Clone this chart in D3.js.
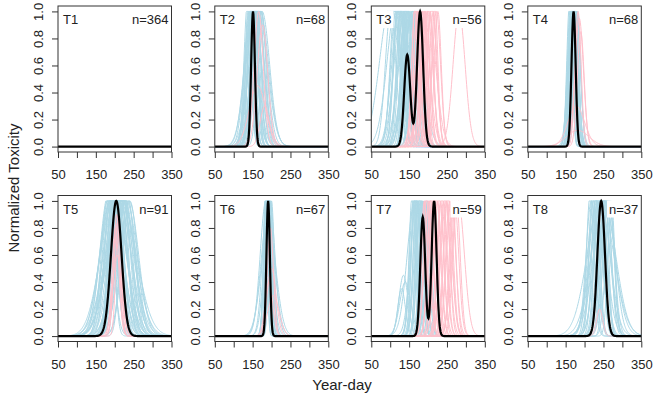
<!DOCTYPE html>
<html><head><meta charset="utf-8">
<script src="https://cdn.jsdelivr.net/npm/d3@7"></script>
<style>body{margin:0;background:#fff}svg{display:block;font-family:"Liberation Sans",Arial,sans-serif}</style>
</head><body><svg id="c" width="654" height="401"></svg>
<script>
// ---- data ----
const panelNames = ["T1","T2","T3","T4","T5","T6","T7","T8"];
const panelN = [364,68,56,68,91,67,59,37];
const xTicks = [50,100,150,200,250,300,350];
const xTickLabels = [50,150,250,350];
const yTicks = [0,0.2,0.4,0.6,0.8,1.0];
// each curve: [peak day, spread (days), relative height]
const blueCurves = [
  [],
  [[136,9,1.05],[139,8,1],[141,11,1.1],[143,7,1],[145,12,1.05],[147,9,1.1],[148,15,1],[150,8,1.05],[151,13,1.1],[153,10,1],[154,17,1.05],[156,9,1.1],[157,12,1],[159,14,1.05],[160,20,1],[162,10,1.05],[164,16,1.1],[165,24,1],[167,13,1],[168,19,1.05],[170,22,1],[172,15,1],[174,11,1],[144,16,1],[149,6,1.05],[152,22,1],[158,7,1],[146,19,0.95],[175,20,1]],
  [[101,14,1],[100,28,1.05],[118,25,1.1],[112,12,1.05],[115,14,1],[118,10,1.05],[121,12,1],[124,15,1.1],[127,10,1],[130,13,1.05],[133,11,1.1],[136,16,1],[138,9,1.05],[141,12,1.1],[144,14,1],[146,10,1.05],[149,18,1],[152,11,1.1],[155,13,1],[158,20,1],[160,9,1.05],[163,15,1],[166,12,1.05],[169,10,1],[173,14,1],[130,20,1],[145,22,1],[160,24,1],[122,18,1],[140,7,1.05],[150,8,1],[135,6,1]],
  [[160,7,1.05],[162,8,1],[163,6,1.1],[165,9,1],[166,7,1.05],[167,8,1.1],[168,10,1],[169,6,1.05],[170,9,1.1],[171,7,1],[172,8,1.05],[173,10,1],[174,7,1.1],[175,9,1],[176,8,1.05],[178,7,1],[180,9,1],[182,8,1],[167,11,1],[177,11,1],[164,5,1],[172,5,1.05]],
  [[180,16,1],[183,22,1.05],[185,18,1],[187,25,1.05],[189,15,1.1],[191,30,1],[193,20,1.05],[195,12,1.1],[197,35,1],[199,22,1.05],[201,16,1.1],[203,28,1],[205,18,1.1],[207,24,1.05],[209,14,1.1],[211,32,1],[213,20,1.05],[215,26,1.1],[217,16,1.05],[218,36,1],[220,22,1.05],[222,18,1.1],[224,28,1],[226,20,1.05],[228,24,1],[230,30,1],[232,22,1.05],[235,18,1],[238,25,1],[196,26,1.05],[210,10,1.05],[200,30,1],[217,40,1],[205,13,1.05],[190,10,1],[225,12,1],[215,34,1],[188,28,1],[240,20,1],[212,22,1.05]],
  [[183,5,1],[185,6,1.05],[186,4,1.1],[187,7,1],[188,5,1.05],[189,8,1],[190,6,1.1],[191,5,1.05],[192,7,1],[193,4,1.05],[194,6,1],[195,8,1.05],[196,5,1],[198,6,1],[200,7,1],[185,15,1],[190,18,0.9],[195,14,1],[188,12,1],[192,20,0.8]],
  [[158,8,1.05],[161,10,1],[163,7,1.1],[165,9,1],[167,12,1.05],[169,8,1.1],[171,10,1],[173,7,1.05],[175,11,1],[177,9,1.05],[179,8,1.1],[181,10,1],[183,7,1.05],[186,9,1],[189,8,1],[193,9,1],[198,8,1],[203,7,1],[135,12,0.45],[140,15,0.4],[130,10,0.35],[165,20,1],[170,16,1]],
  [[215,10,1.05],[218,14,1],[221,9,1.1],[224,12,1],[227,18,1.05],[230,10,1.1],[232,15,1],[235,22,1.05],[237,11,1.1],[240,16,1],[242,25,1],[245,13,1.05],[247,19,1.1],[250,10,1],[252,28,1],[255,15,1.05],[258,12,1.1],[261,20,1],[264,14,1.05],[267,11,1],[271,9,1],[242,35,1],[250,32,1],[233,8,1],[256,8,1]]
];
const pinkCurves = [
  [],
  [[166,12,1],[176,14,0.9],[163,22,0.45],[182,12,0.3]],
  [[165,8,1.05],[168,10,1.1],[171,9,1],[174,12,1.05],[177,8,1.1],[180,11,1],[183,10,1.05],[186,13,1],[189,9,1.1],[192,12,1],[195,10,1.05],[198,14,1],[202,11,1.05],[206,9,1],[210,12,1.05],[214,10,1],[218,8,1.05],[222,11,1],[226,9,1],[185,18,1],[200,20,1],[282,16,1],[175,6,1],[190,7,1]],
  [[183,8,1],[186,11,0.95],[190,9,0.85],[178,22,0.3],[182,30,0.12]],
  [[205,8,0.9],[208,10,0.85],[202,9,0.8],[210,7,0.9],[206,12,0.6]],
  [[197,8,0.8],[200,12,0.5],[205,15,0.3],[193,10,0.4]],
  [[190,8,1],[194,10,1.05],[198,9,1.1],[202,11,1],[206,8,1.05],[210,10,1.1],[214,12,1],[217,9,1.05],[221,11,1.1],[225,10,1],[229,12,1.05],[233,9,1],[237,11,1.05],[241,10,1],[245,12,1.05],[249,9,1],[253,11,1.05],[257,10,1],[261,12,1],[265,9,1],[270,11,1],[275,10,1],[280,16,1],[248,14,1]],
  [[240,8,0.2]]
];
const meanCurves = [
  [],
  [[151,5,1]],
  [[145,8,0.68],[179,8,1]],
  [[171,5.5,1]],
  [[204,14,1]],
  [[191,4.5,1]],
  [[186,6.5,0.88],[216,6.5,1]],
  [[244,10,1]]
];

// ---- drawing ----
const svg = d3.select("#c");
const days = d3.range(50, 351, 1);
function profile(comps){
  return days.map(d => [d, Math.min(1, comps.reduce((s,[c,sd,a]) => s + a*Math.exp(-0.5*((d-c)/sd)**2), 0))]);
}
const boxW = 113.5, boxH = 146;
const colLeft = [58, 214.8, 371.3, 527.8];
const rowTop = [6, 195.5];
const txt = "#222";

panelNames.forEach((name, i) => {
  const r = Math.floor(i/4), c = i%4;
  const g = svg.append("g").attr("transform", `translate(${colLeft[c]},${rowTop[r]})`);
  const x = d3.scaleLinear().domain([50,350]).range([0,boxW]);
  const y = d3.scaleLinear().domain([-0.04,1.04]).range([boxH,0]);
  const line = d3.line().x(d=>x(d[0])).y(d=>y(d[1]));
  g.append("clipPath").attr("id","clip"+i).append("rect").attr("width",boxW).attr("height",boxH);
  const pg = g.append("g").attr("clip-path",`url(#clip${i})`);
  blueCurves[i].forEach(p => pg.append("path").attr("d", line(profile([p]))).attr("fill","none").attr("stroke","#ADD8E6").attr("stroke-width",1));
  pinkCurves[i].forEach(p => pg.append("path").attr("d", line(profile([p]))).attr("fill","none").attr("stroke","#FFC0CB").attr("stroke-width",1));

  // labels with white background
  const tl = g.append("text").attr("x",5).attr("y",18).attr("font-size",13).attr("fill",txt).text(name);
  const nl = g.append("text").attr("x",boxW-3).attr("y",18).attr("text-anchor","end").attr("font-size",13).attr("fill",txt).text("n="+panelN[i]);
  [tl,nl].forEach(t => {
    const b = t.node().getBBox();
    g.insert("rect", "text").attr("x",b.x-2).attr("y",b.y-1).attr("width",b.width+4).attr("height",b.height+2).attr("fill","#fff");
  });

  pg.append("path").attr("d", line(profile(meanCurves[i]))).attr("fill","none").attr("stroke","#000").attr("stroke-width",2.2);

  g.append("rect").attr("width",boxW).attr("height",boxH).attr("fill","none").attr("stroke","#333").attr("stroke-width",1);

  // x axis
  const xa = g.append("g").attr("transform",`translate(0,${boxH})`)
    .call(d3.axisBottom(x).tickValues(xTicks).tickSize(6).tickPadding(12)
      .tickFormat(d => xTickLabels.includes(d) ? d : ""));
  xa.select(".domain").remove();
  xa.selectAll("line").attr("stroke","#333");
  xa.selectAll("text").attr("font-size",13).attr("fill",txt).attr("font-family","Liberation Sans, Arial, sans-serif");

  // y axis
  const ya = g.append("g").call(d3.axisLeft(y).tickValues(yTicks).tickSize(6).tickFormat(d3.format(".1f")));
  ya.select(".domain").remove();
  ya.selectAll("line").attr("stroke","#333");
  ya.selectAll("text").attr("font-size",13).attr("fill",txt).attr("font-family","Liberation Sans, Arial, sans-serif")
    .attr("x",null).attr("dy",null).attr("text-anchor","middle")
    .attr("transform","translate(-15,0) rotate(-90)");
});

svg.append("text").attr("transform","translate(19,188) rotate(-90)").attr("text-anchor","middle")
  .attr("font-size",15).attr("fill",txt).text("Normalized Toxicity");
svg.append("text").attr("x",342).attr("y",390).attr("text-anchor","middle")
  .attr("font-size",15).attr("fill",txt).text("Year-day");
</script></body></html>
